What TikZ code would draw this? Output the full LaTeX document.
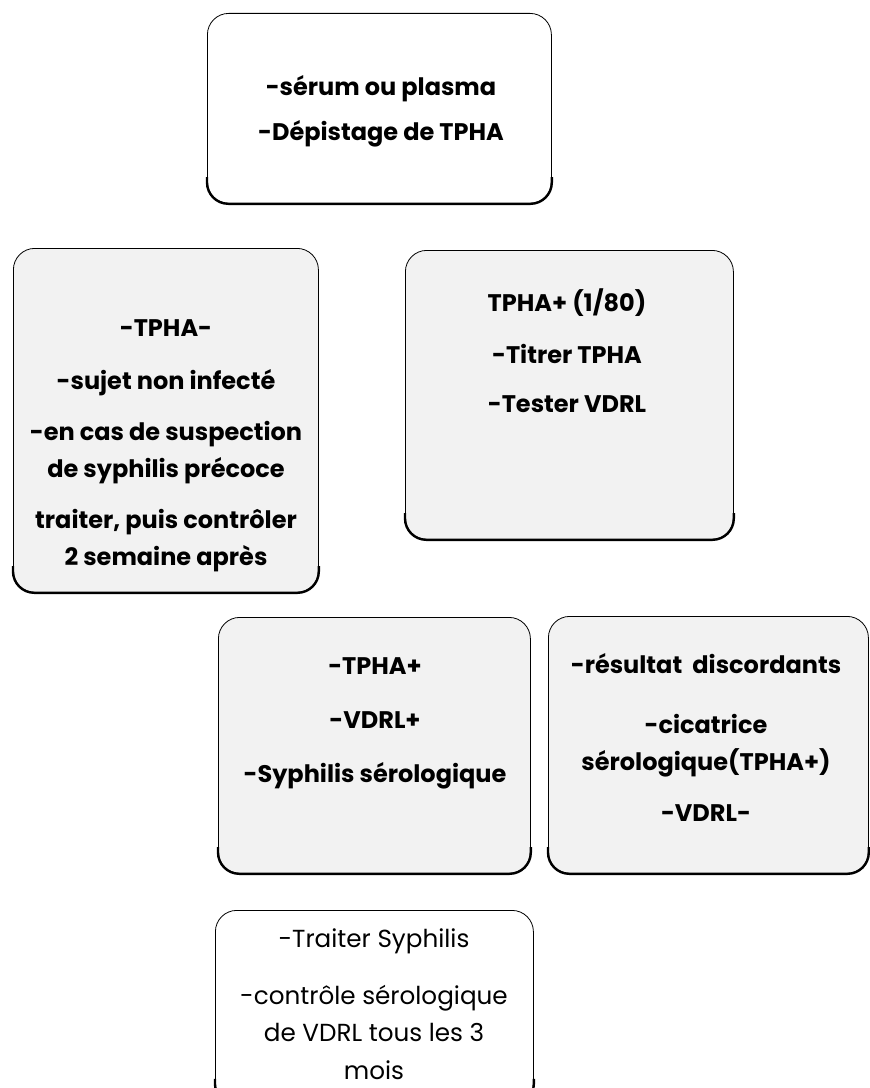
\documentclass[tikz,border=0pt]{standalone}
\usepackage{fontspec}
\setmainfont{Poppins}
\usetikzlibrary{calc}
\begin{document}
\begin{tikzpicture}[x=0.75pt,y=-0.75pt,
  frame/.style={draw=black, line width=0.6pt, rounded corners=16pt, inner sep=0pt, anchor=north west},
  speck/.style={fill=black!5},
  botline/.style={line width=1.8pt, rounded corners=16pt},
  txt/.style={align=center, font=\bfseries\fontsize{18}{28}\selectfont, inner sep=0pt},
  txtreg/.style={align=center, font=\fontsize{18.5}{28}\selectfont, inner sep=0pt},
]
\useasboundingbox (0,0) rectangle (870,1088);
\clip (0,0) rectangle (870,1088);
\fill[white] (0,0) rectangle (870,1088);

\node[frame, minimum width=258pt, minimum height=142.5pt] (bTop) at (207,13) {};
\node[frame, speck, minimum width=228.75pt, minimum height=258pt] (bLeft) at (13,248) {};
\node[frame, speck, minimum width=246pt, minimum height=216.75pt] (bRight) at (405,250) {};
\node[frame, speck, minimum width=234pt, minimum height=192pt] (bMid) at (218,617) {};
\node[frame, speck, minimum width=240pt, minimum height=192.75pt] (bRB) at (548,616) {};
\node[frame, minimum width=238.5pt, minimum height=146pt] (bBot) at (215,910) {};

\foreach \b in {bTop,bLeft,bRight,bMid,bRB,bBot} {
  \draw[botline] ($(\b.south west)+(0pt,20pt)$) -- (\b.south west) -- (\b.south east) -- ($(\b.south east)+(0pt,20pt)$);
}

\node[txt] (tTop) at (381,111) {-sérum ou plasma\\[6pt]-Dépistage de TPHA};
\node[txt] (tLeft) at (166,446) {-TPHA-\\[12pt]-sujet non infecté\\[10pt]-en cas de suspection\\de syphilis précoce\\[10pt]traiter, puis contrôler\\2 semaine après};
\node[txt] (tRight) at (567,351) {TPHA+ (1/80)\\[11pt]-Titrer TPHA\\[9pt]-Tester VDRL};
\node[txt] (tMid) at (375,723) {-TPHA+\\[13pt]-VDRL+\\[12pt]-Syphilis sérologique};
\node[txt] (tRB) at (706,737) {-résultat\ \ discordants\\[17pt]-cicatrice\\sérologique(TPHA+)\\[10pt]-VDRL-};
\node[txtreg] (tBot) at (374,1004) {-Traiter Syphilis\\[15pt]-contrôle sérologique\\de VDRL tous les 3\\mois};
\end{tikzpicture}
\end{document}
